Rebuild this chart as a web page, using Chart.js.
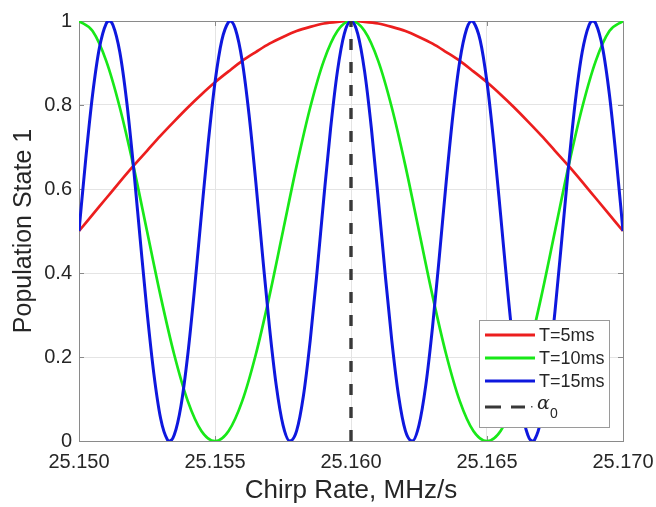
<!DOCTYPE html>
<html>
<head>
<meta charset="utf-8">
<script src="https://cdn.jsdelivr.net/npm/chart.js@4.4.0/dist/chart.umd.min.js"></script>
<style>
html,body{margin:0;padding:0;background:#fff;}
#wrap{width:656px;height:507px;}
</style>
</head>
<body>
<div id="wrap"><canvas id="c" width="656" height="507"></canvas></div>
<script>
// ---- data ----
const xTicks = [25.150, 25.155, 25.160, 25.165, 25.170];
const yTicks = [0, 0.2, 0.4, 0.6, 0.8, 1];
const seriesLabels = ["T=5ms", "T=10ms", "T=15ms"];
const alpha0 = 25.160;

const xRed = [25.1500,25.1505,25.1510,25.1515,25.1520,25.1525,25.1530,25.1535,25.1540,25.1545,
  25.1550,25.1555,25.1560,25.1565,25.1570,25.1575,25.1580,25.1585,25.1590,25.1595,
  25.1600,25.1605,25.1610,25.1615,25.1620,25.1625,25.1630,25.1635,25.1640,25.1645,
  25.1650,25.1655,25.1660,25.1665,25.1670,25.1675,25.1680,25.1685,25.1690,25.1695,25.1700];
const yRed = [0.500,0.539,0.578,0.617,0.655,0.691,0.727,0.761,0.794,0.825,
  0.854,0.880,0.905,0.926,0.946,0.962,0.976,0.986,0.994,0.998,
  1.000,0.998,0.994,0.986,0.976,0.962,0.946,0.926,0.905,0.880,
  0.854,0.825,0.794,0.761,0.727,0.691,0.655,0.617,0.578,0.539,0.500];

const xGreen = [25.1500,25.1505,25.1510,25.1515,25.1520,25.1525,25.1530,25.1535,25.1540,25.1545,
  25.1550,25.1555,25.1560,25.1565,25.1570,25.1575,25.1580,25.1585,25.1590,25.1595,
  25.1600,25.1605,25.1610,25.1615,25.1620,25.1625,25.1630,25.1635,25.1640,25.1645,
  25.1650,25.1655,25.1660,25.1665,25.1670,25.1675,25.1680,25.1685,25.1690,25.1695,25.1700];
const yGreen = [1.000,0.976,0.905,0.794,0.655,0.500,0.345,0.206,0.095,0.024,
  0.000,0.024,0.095,0.206,0.345,0.500,0.655,0.794,0.905,0.976,
  1.000,0.976,0.905,0.794,0.655,0.500,0.345,0.206,0.095,0.024,
  0.000,0.024,0.095,0.206,0.345,0.500,0.655,0.794,0.905,0.976,1.000];

const xBlue = [25.15000,25.15025,25.15050,25.15075,25.15100,25.15111,25.15125,25.15150,25.15175,25.15200,
  25.15225,25.15250,25.15275,25.15300,25.15325,25.15333,25.15350,25.15375,25.15400,25.15425,
  25.15450,25.15475,25.15500,25.15525,25.15550,25.15556,25.15575,25.15600,25.15625,25.15650,
  25.15675,25.15700,25.15725,25.15750,25.15775,25.15800,25.15825,25.15850,25.15875,25.15900,
  25.15925,25.15950,25.15975,25.16000,25.16025,25.16050,25.16075,25.16100,25.16125,25.16150,
  25.16175,25.16200,25.16225,25.16250,25.16275,25.16300,25.16325,25.16350,25.16375,25.16400,
  25.16425,25.16444,25.16450,25.16475,25.16500,25.16525,25.16550,25.16575,25.16600,25.16625,
  25.16650,25.16667,25.16675,25.16700,25.16725,25.16750,25.16775,25.16800,25.16825,25.16850,
  25.16875,25.16889,25.16900,25.16925,25.16950,25.16975,25.17000];
const yBlue = [0.500,0.673,0.825,0.936,0.994,1.000,0.990,0.926,0.810,0.655,
  0.480,0.309,0.161,0.054,0.003,0.000,0.014,0.084,0.206,0.364,
  0.539,0.709,0.854,0.954,0.998,1.000,0.981,0.905,0.778,0.617,
  0.441,0.273,0.133,0.038,0.000,0.024,0.107,0.239,0.402,0.578,
  0.744,0.880,0.969,1.000,0.969,0.880,0.744,0.578,0.402,0.239,
  0.107,0.024,0.000,0.038,0.133,0.273,0.441,0.617,0.778,0.905,
  0.981,1.000,0.998,0.954,0.854,0.709,0.539,0.364,0.206,0.084,
  0.014,0.000,0.003,0.054,0.161,0.309,0.480,0.655,0.810,0.926,
  0.990,1.000,0.994,0.936,0.825,0.673,0.500];

const xDash = [alpha0, alpha0];
const yDash = [0, 1];

// ---- styles ----
const COL_RED = 'rgb(236,30,30)';
const COL_GREEN = 'rgb(24,232,24)';
const COL_BLUE = 'rgb(14,24,222)';
const COL_DASH = '#383838';
const TXT = '#262626';
const FONT = "'Liberation Sans', Arial, Helvetica, sans-serif";

function pts(xs, ys){ return xs.map((x,i)=>({x:x, y:ys[i]})); }

const boxPlugin = {
  id: 'boxPlugin',
  beforeDatasetsDraw(chart){
    const {ctx, chartArea:a, scales} = chart;
    ctx.save();
    ctx.strokeStyle = '#8a8a8a';
    ctx.lineWidth = 1;
    ctx.beginPath();
    xTicks.forEach(v=>{
      const px = Math.round(scales.x.getPixelForValue(v))+0.5;
      ctx.moveTo(px, a.bottom); ctx.lineTo(px, a.bottom-5);
      ctx.moveTo(px, a.top); ctx.lineTo(px, a.top+5);
    });
    yTicks.forEach(v=>{
      const py = Math.round(scales.y.getPixelForValue(v))+0.5;
      ctx.moveTo(a.left, py); ctx.lineTo(a.left+5, py);
      ctx.moveTo(a.right, py); ctx.lineTo(a.right-5, py);
    });
    ctx.stroke();
    ctx.strokeRect(Math.round(a.left)+0.5, Math.round(a.top)+0.5, Math.round(a.right-a.left), Math.round(a.bottom-a.top));
    ctx.restore();
  },
  afterDatasetsDraw(chart){
    const ctx = chart.ctx;
    const ds = chart.data.datasets;
    ctx.save();
    const L=479, T=320, R=609, B=427;
    ctx.fillStyle = '#fff';
    ctx.fillRect(L, T, R-L, B-T);
    ctx.strokeStyle = '#9a9a9a';
    ctx.lineWidth = 1;
    ctx.strokeRect(L+0.5, T+0.5, R-L, B-T);
    const rows = [335, 358, 381];
    ctx.font = "18px " + FONT;
    ctx.textBaseline = 'middle';
    ctx.textAlign = 'left';
    for (let i=0;i<3;i++){
      ctx.strokeStyle = ds[i].borderColor;
      ctx.lineWidth = 3;
      ctx.beginPath();
      ctx.moveTo(485, rows[i]); ctx.lineTo(535, rows[i]);
      ctx.stroke();
      ctx.fillStyle = TXT;
      ctx.fillText(ds[i].label, 539, rows[i]+1);
    }
    // dashed alpha0 entry
    ctx.strokeStyle = COL_DASH;
    ctx.lineWidth = 3;
    ctx.setLineDash([16,10]);
    ctx.beginPath();
    ctx.moveTo(485, 407); ctx.lineTo(525, 407);
    ctx.stroke();
    ctx.setLineDash([]);
    ctx.fillStyle = '#555';
    ctx.fillRect(531, 406, 1.5, 1.5);
    ctx.fillStyle = TXT;
    ctx.font = "italic 19px 'DejaVu Serif', 'Liberation Serif', serif";
    ctx.fillText('α', 537, 404);
    ctx.font = "14px " + FONT;
    ctx.fillText('0', 550, 414);
    ctx.restore();
  }
};

const chart = new Chart(document.getElementById('c'), {
  type: 'line',
  data: {
    datasets: [
      {label: seriesLabels[0], data: pts(xRed, yRed), borderColor: COL_RED, borderWidth: 2.7, pointRadius: 0, cubicInterpolationMode: 'monotone', fill: false, order: 3},
      {label: seriesLabels[1], data: pts(xGreen, yGreen), borderColor: COL_GREEN, borderWidth: 2.7, pointRadius: 0, cubicInterpolationMode: 'monotone', fill: false, order: 2},
      {label: seriesLabels[2], data: pts(xBlue, yBlue), borderColor: COL_BLUE, borderWidth: 3, pointRadius: 0, cubicInterpolationMode: 'monotone', fill: false, order: 1},
      {label: 'α0', data: pts(xDash, yDash), borderColor: COL_DASH, borderWidth: 3.4, borderDash: [11,12], pointRadius: 0, fill: false, order: 0}
    ]
  },
  options: {
    responsive: false,
    animation: false,
    devicePixelRatio: 1,
    layout: {padding: {top: 21, right: 33, left: 0, bottom: 0}},
    plugins: {legend: {display: false}, tooltip: {enabled: false}},
    scales: {
      x: {
        type: 'linear', min: 25.150, max: 25.170,
        afterFit(s){ s.height = 66; s.paddingLeft = 0; s.paddingRight = 0; },
        afterBuildTicks(s){ s.ticks = xTicks.map(v=>({value:v})); },
        grid: {color: '#e4e4e4', drawTicks: false, lineWidth: 1},
        border: {display: false},
        ticks: {color: TXT, font: {family: FONT, size: 20}, padding: 9, maxRotation: 0,
          callback: v => Number(v).toFixed(3)},
        title: {display: true, text: 'Chirp Rate, MHz/s', color: TXT, font: {family: FONT, size: 26}, padding: {top: 0, bottom: 1}}
      },
      y: {
        type: 'linear', min: 0, max: 1,
        afterFit(s){ s.width = 79; s.paddingTop = 0; s.paddingBottom = 0; },
        afterBuildTicks(s){ s.ticks = yTicks.map(v=>({value:v})); },
        grid: {color: '#e4e4e4', drawTicks: false, lineWidth: 1},
        border: {display: false},
        ticks: {color: TXT, font: {family: FONT, size: 20}, padding: 7,
          callback: v => String(Math.round(v*10)/10)},
        title: {display: true, text: 'Population State 1', color: TXT, font: {family: FONT, size: 25}, padding: {top: 9, bottom: 0}}
      }
    }
  },
  plugins: [boxPlugin]
});
</script>
</body>
</html>
